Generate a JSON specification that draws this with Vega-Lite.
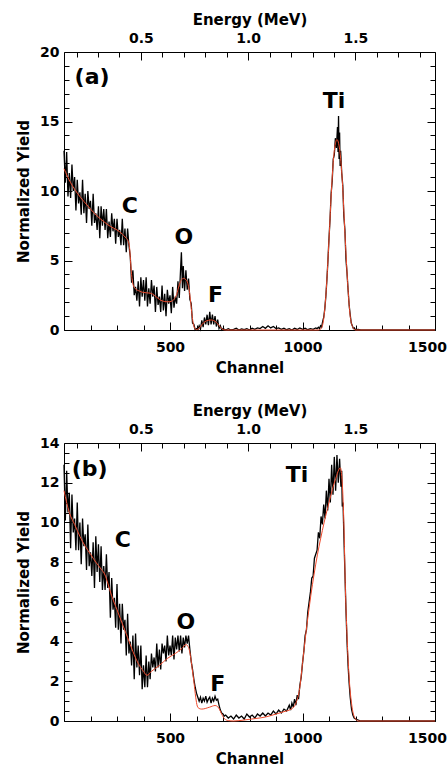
{
  "$schema": "https://vega.github.io/schema/vega-lite/v6.json",
  "background": "white",
  "padding": {"left": 16, "top": 11, "right": 0, "bottom": 0},
  "config": {
    "view": {"stroke": "black", "strokeWidth": 1},
    "axis": {"labelFont": "DejaVu Sans", "labelFontWeight": "bold", "labelFontSize": 14, "labelColor": "black", "titleFont": "DejaVu Sans", "titleFontWeight": "bold", "titleFontSize": 15, "titleColor": "black", "tickColor": "black", "tickWidth": 1, "grid": false, "domain": false, "labelFlush": false, "labelOverlap": false}
  },
  "datasets": {
    "blackA": [
      {"c":100,"v":12.9},{"c":105,"v":10.6},{"c":110,"v":12.8},{"c":115,"v":9.6},{"c":120,"v":11.3},{"c":125,"v":9.5},{"c":130,"v":11.9},{"c":135,"v":10.0},{"c":140,"v":11.0},{"c":145,"v":8.6},{"c":150,"v":10.8},{"c":155,"v":9.1},{"c":160,"v":9.9},{"c":165,"v":8.3},{"c":170,"v":10.8},{"c":175,"v":8.4},{"c":180,"v":9.8},{"c":185,"v":7.7},{"c":190,"v":10.0},{"c":195,"v":8.7},{"c":200,"v":9.3},{"c":205,"v":7.5},{"c":210,"v":9.8},{"c":215,"v":7.7},{"c":220,"v":8.4},{"c":225,"v":7.2},{"c":230,"v":8.9},{"c":235,"v":6.6},{"c":240,"v":8.9},{"c":245,"v":7.5},{"c":250,"v":8.7},{"c":255,"v":7.2},{"c":260,"v":8.7},{"c":265,"v":6.6},{"c":270,"v":7.8},{"c":275,"v":6.7},{"c":280,"v":8.4},{"c":285,"v":7.1},{"c":290,"v":8.0},{"c":295,"v":6.2},{"c":300,"v":8.0},{"c":305,"v":6.7},{"c":310,"v":7.2},{"c":315,"v":6.1},{"c":320,"v":8.0},{"c":325,"v":6.1},{"c":330,"v":7.3},{"c":335,"v":5.6},{"c":340,"v":7.3},{"c":345,"v":6.1},{"c":350,"v":5.3},{"c":355,"v":3.4},{"c":360,"v":4.3},{"c":365,"v":2.5},{"c":370,"v":3.1},{"c":375,"v":2.1},{"c":380,"v":3.5},{"c":385,"v":1.7},{"c":390,"v":3.8},{"c":395,"v":2.4},{"c":400,"v":3.6},{"c":405,"v":2.1},{"c":410,"v":3.8},{"c":415,"v":1.7},{"c":420,"v":3.0},{"c":425,"v":1.9},{"c":430,"v":3.6},{"c":435,"v":2.4},{"c":440,"v":3.2},{"c":445,"v":1.3},{"c":450,"v":3.1},{"c":455,"v":1.8},{"c":460,"v":2.4},{"c":465,"v":1.3},{"c":470,"v":3.2},{"c":475,"v":1.4},{"c":480,"v":2.6},{"c":485,"v":1.0},{"c":490,"v":2.9},{"c":495,"v":1.9},{"c":500,"v":2.5},{"c":505,"v":1.2},{"c":510,"v":3.1},{"c":515,"v":1.6},{"c":520,"v":2.4},{"c":525,"v":1.9},{"c":530,"v":3.5},{"c":535,"v":2.3},{"c":540,"v":4.4},{"c":543,"v":5.6},{"c":547,"v":3.0},{"c":550,"v":4.6},{"c":555,"v":2.8},{"c":560,"v":4.3},{"c":565,"v":2.9},{"c":570,"v":3.7},{"c":575,"v":2.2},{"c":580,"v":1.9},{"c":585,"v":0.5},{"c":590,"v":0.4},{"c":595,"v":0.0},{"c":600,"v":0.1},{"c":605,"v":0.0},{"c":610,"v":0.3},{"c":615,"v":0.05},{"c":620,"v":0.7},{"c":625,"v":0.2},{"c":630,"v":0.9},{"c":635,"v":0.4},{"c":640,"v":1.1},{"c":645,"v":0.35},{"c":650,"v":1.3},{"c":655,"v":0.4},{"c":660,"v":1.1},{"c":665,"v":0.4},{"c":670,"v":1.0},{"c":675,"v":0.25},{"c":680,"v":0.75},{"c":685,"v":0.1},{"c":690,"v":0.3},{"c":695,"v":0.0},{"c":700,"v":0.1},
      {"c":710,"v":0.0},{"c":720,"v":0.1},{"c":730,"v":0.0},{"c":740,"v":0.05},{"c":750,"v":0.12},{"c":760,"v":0.0},{"c":770,"v":0.08},{"c":780,"v":0.02},{"c":790,"v":0.1},{"c":800,"v":0.0},{"c":810,"v":0.12},{"c":820,"v":0.05},{"c":830,"v":0.15},{"c":840,"v":0.1},{"c":850,"v":0.25},{"c":860,"v":0.12},{"c":870,"v":0.3},{"c":880,"v":0.15},{"c":890,"v":0.25},{"c":900,"v":0.1},{"c":910,"v":0.15},{"c":920,"v":0.05},{"c":930,"v":0.12},{"c":940,"v":0.02},{"c":950,"v":0.1},{"c":960,"v":0.0},{"c":970,"v":0.12},{"c":980,"v":0.04},{"c":990,"v":0.15},{"c":1000,"v":0.05},{"c":1010,"v":0.12},{"c":1020,"v":0.02},{"c":1030,"v":0.1},{"c":1040,"v":0.05},{"c":1050,"v":0.15},{"c":1055,"v":0.1},{"c":1060,"v":0.2},
      {"c":1064,"v":0.1},{"c":1068,"v":0.3},{"c":1072,"v":0.2},{"c":1076,"v":0.6},{"c":1080,"v":0.9},{"c":1084,"v":1.5},{"c":1088,"v":2.4},{"c":1092,"v":3.6},{"c":1096,"v":5.0},{"c":1100,"v":6.6},{"c":1104,"v":8.0},{"c":1108,"v":9.8},{"c":1112,"v":10.7},{"c":1116,"v":12.3},{"c":1120,"v":12.6},{"c":1124,"v":13.8},{"c":1128,"v":13.1},{"c":1132,"v":14.6},{"c":1134,"v":12.8},{"c":1136,"v":15.4},{"c":1138,"v":12.3},{"c":1140,"v":14.2},{"c":1142,"v":11.8},{"c":1144,"v":12.9},{"c":1148,"v":11.3},{"c":1152,"v":10.4},{"c":1156,"v":8.2},{"c":1160,"v":7.2},{"c":1164,"v":5.1},{"c":1168,"v":4.1},{"c":1172,"v":2.9},{"c":1176,"v":1.8},{"c":1180,"v":1.1},{"c":1184,"v":0.5},{"c":1188,"v":0.3},{"c":1192,"v":0.1},{"c":1196,"v":0.15},{"c":1200,"v":0.0},{"c":1210,"v":0.05},{"c":1220,"v":0.0},{"c":1500,"v":0.0}
    ],
    "redA": [
      {"c":100,"v":11.6},{"c":125,"v":10.6},{"c":150,"v":9.85},{"c":175,"v":9.25},{"c":200,"v":8.7},{"c":225,"v":8.2},{"c":250,"v":7.8},{"c":275,"v":7.45},{"c":300,"v":7.2},{"c":320,"v":6.9},{"c":335,"v":6.6},{"c":342,"v":6.4},{"c":347,"v":6.0},{"c":351,"v":5.0},{"c":355,"v":4.0},{"c":360,"v":3.3},{"c":368,"v":3.0},{"c":385,"v":2.8},{"c":400,"v":2.7},{"c":425,"v":2.65},{"c":435,"v":2.58},{"c":450,"v":2.35},{"c":470,"v":2.1},{"c":490,"v":2.03},{"c":505,"v":2.06},{"c":515,"v":2.2},{"c":525,"v":2.55},{"c":535,"v":3.25},{"c":545,"v":3.65},{"c":550,"v":3.72},{"c":560,"v":3.62},{"c":567,"v":3.35},{"c":573,"v":2.8},{"c":578,"v":2.0},{"c":583,"v":1.1},{"c":588,"v":0.45},{"c":594,"v":0.1},{"c":600,"v":0.03},{"c":610,"v":0.12},{"c":620,"v":0.38},{"c":632,"v":0.6},{"c":645,"v":0.7},{"c":655,"v":0.72},{"c":665,"v":0.68},{"c":675,"v":0.55},{"c":685,"v":0.32},{"c":695,"v":0.1},{"c":702,"v":0.02},{"c":710,"v":0},{"c":1060,"v":0},{"c":1070,"v":0.1},{"c":1080,"v":0.8},{"c":1090,"v":3.0},{"c":1100,"v":6.5},{"c":1110,"v":10.3},{"c":1120,"v":12.9},{"c":1130,"v":13.7},{"c":1140,"v":13.0},{"c":1150,"v":10.8},{"c":1160,"v":7.0},{"c":1170,"v":3.5},{"c":1180,"v":1.0},{"c":1190,"v":0.2},{"c":1200,"v":0},{"c":1500,"v":0}
    ],
    "labA": [
      {"t":"(a)","c":206,"v":18.2},{"t":"C","c":348,"v":8.9},{"t":"O","c":552,"v":6.7},{"t":"F","c":672,"v":2.5},{"t":"Ti","c":1119,"v":16.5}
    ],
    "blackB": [
      {"c":100,"v":12.9},{"c":105,"v":10.1},{"c":110,"v":12.6},{"c":115,"v":10.5},{"c":120,"v":11.5},{"c":125,"v":8.7},{"c":130,"v":11.4},{"c":135,"v":9.5},{"c":140,"v":10.2},{"c":145,"v":8.6},{"c":150,"v":11.0},{"c":155,"v":8.6},{"c":160,"v":10.0},{"c":165,"v":7.9},{"c":170,"v":10.2},{"c":175,"v":8.8},{"c":180,"v":9.4},{"c":185,"v":7.6},{"c":190,"v":9.9},{"c":195,"v":7.8},{"c":200,"v":8.5},{"c":205,"v":7.3},{"c":210,"v":9.0},{"c":215,"v":6.7},{"c":220,"v":9.3},{"c":225,"v":7.5},{"c":230,"v":8.9},{"c":235,"v":7.0},{"c":240,"v":8.8},{"c":245,"v":6.6},{"c":250,"v":7.8},{"c":255,"v":6.6},{"c":260,"v":8.4},{"c":265,"v":6.7},{"c":270,"v":7.5},{"c":275,"v":5.2},{"c":280,"v":7.2},{"c":285,"v":5.6},{"c":290,"v":6.2},{"c":295,"v":4.7},{"c":300,"v":6.9},{"c":305,"v":4.6},{"c":310,"v":5.9},{"c":315,"v":3.9},{"c":320,"v":5.9},{"c":325,"v":4.6},{"c":330,"v":5.1},{"c":335,"v":3.3},{"c":340,"v":5.4},{"c":345,"v":3.4},{"c":350,"v":4.0},{"c":355,"v":2.8},{"c":360,"v":4.3},{"c":365,"v":2.1},{"c":370,"v":4.4},{"c":375,"v":2.7},{"c":380,"v":3.8},{"c":385,"v":2.3},{"c":390,"v":3.8},{"c":395,"v":1.6},{"c":400,"v":2.8},{"c":405,"v":1.7},{"c":410,"v":3.3},{"c":415,"v":1.7},{"c":420,"v":3.0},{"c":425,"v":2.1},{"c":430,"v":3.4},{"c":435,"v":2.7},{"c":440,"v":3.2},{"c":445,"v":2.5},{"c":450,"v":3.9},{"c":455,"v":2.7},{"c":460,"v":3.6},{"c":465,"v":2.6},{"c":470,"v":3.9},{"c":475,"v":3.4},{"c":480,"v":3.8},{"c":485,"v":3.0},{"c":490,"v":4.3},{"c":495,"v":3.3},{"c":500,"v":3.8},{"c":505,"v":3.3},{"c":510,"v":4.3},{"c":515,"v":3.1},{"c":520,"v":4.2},{"c":525,"v":3.6},{"c":530,"v":4.3},{"c":535,"v":3.5},{"c":540,"v":4.3},{"c":545,"v":3.4},{"c":550,"v":4.2},{"c":555,"v":3.7},{"c":560,"v":4.3},{"c":565,"v":3.9},{"c":570,"v":4.3},{"c":575,"v":3.6},{"c":580,"v":3.0},{"c":585,"v":2.6},{"c":590,"v":2.1},{"c":595,"v":1.7},{"c":600,"v":1.4},{"c":605,"v":1.2},{"c":610,"v":1.0},{"c":615,"v":1.2},{"c":620,"v":0.9},{"c":625,"v":1.15},{"c":630,"v":1.0},{"c":635,"v":1.25},{"c":640,"v":0.95},{"c":645,"v":1.1},{"c":650,"v":1.2},{"c":655,"v":0.9},{"c":660,"v":1.15},{"c":665,"v":1.0},{"c":670,"v":1.25},{"c":675,"v":1.05},{"c":680,"v":1.1},{"c":685,"v":0.8},{"c":690,"v":0.55},{"c":695,"v":0.4},{"c":700,"v":0.35},{"c":705,"v":0.25},
      {"c":710,"v":0.3},{"c":720,"v":0.15},{"c":730,"v":0.25},{"c":740,"v":0.1},{"c":750,"v":0.3},{"c":760,"v":0.15},{"c":770,"v":0.25},{"c":780,"v":0.1},{"c":790,"v":0.35},{"c":800,"v":0.2},{"c":810,"v":0.3},{"c":820,"v":0.15},{"c":830,"v":0.35},{"c":840,"v":0.25},{"c":850,"v":0.4},{"c":860,"v":0.25},{"c":870,"v":0.4},{"c":880,"v":0.3},{"c":890,"v":0.5},{"c":900,"v":0.35},{"c":910,"v":0.55},{"c":920,"v":0.4},{"c":930,"v":0.6},{"c":940,"v":0.5},{"c":950,"v":0.8},{"c":955,"v":0.55},{"c":960,"v":0.9},{"c":965,"v":0.7},{"c":970,"v":1.1},{"c":975,"v":0.8},{"c":980,"v":1.3},{"c":985,"v":1.1},{"c":990,"v":1.8},{"c":995,"v":2.2},{"c":1000,"v":2.9},{"c":1005,"v":3.5},{"c":1010,"v":4.3},{"c":1015,"v":4.6},{"c":1020,"v":5.5},{"c":1025,"v":6.0},{"c":1030,"v":6.5},{"c":1035,"v":7.2},{"c":1040,"v":7.3},{"c":1045,"v":8.2},{"c":1050,"v":8.4},{"c":1055,"v":8.6},{"c":1060,"v":9.5},{"c":1065,"v":9.2},{"c":1070,"v":10.3},{"c":1075,"v":9.9},{"c":1080,"v":10.9},{"c":1085,"v":10.2},{"c":1090,"v":11.6},{"c":1095,"v":10.6},{"c":1100,"v":12.2},{"c":1105,"v":11.0},{"c":1110,"v":12.9},{"c":1115,"v":11.4},{"c":1120,"v":13.3},{"c":1125,"v":11.6},{"c":1130,"v":13.4},{"c":1135,"v":12.0},{"c":1140,"v":13.2},{"c":1145,"v":11.8},{"c":1148,"v":12.6},{"c":1150,"v":10.8},{"c":1153,"v":11.0},{"c":1156,"v":9.4},{"c":1160,"v":7.5},{"c":1164,"v":5.6},{"c":1168,"v":4.0},{"c":1172,"v":2.8},{"c":1176,"v":1.9},{"c":1180,"v":1.2},{"c":1185,"v":0.6},{"c":1190,"v":0.3},{"c":1195,"v":0.15},{"c":1200,"v":0.1},{"c":1210,"v":0.05},{"c":1220,"v":0.0},{"c":1500,"v":0.0}
    ],
    "redB": [
      {"c":100,"v":11.6},{"c":120,"v":10.5},{"c":140,"v":9.9},{"c":160,"v":9.3},{"c":180,"v":8.8},{"c":200,"v":8.4},{"c":220,"v":8.0},{"c":240,"v":7.65},{"c":255,"v":7.35},{"c":265,"v":6.95},{"c":280,"v":6.3},{"c":300,"v":5.6},{"c":320,"v":4.9},{"c":340,"v":4.2},{"c":360,"v":3.5},{"c":380,"v":2.9},{"c":400,"v":2.5},{"c":413,"v":2.3},{"c":430,"v":2.5},{"c":460,"v":2.8},{"c":490,"v":3.15},{"c":520,"v":3.4},{"c":545,"v":3.65},{"c":560,"v":3.85},{"c":570,"v":3.7},{"c":577,"v":3.3},{"c":583,"v":2.7},{"c":590,"v":2.0},{"c":597,"v":1.2},{"c":603,"v":0.75},{"c":610,"v":0.63},{"c":620,"v":0.6},{"c":650,"v":0.7},{"c":670,"v":0.78},{"c":680,"v":0.72},{"c":688,"v":0.55},{"c":695,"v":0.35},{"c":705,"v":0.12},{"c":720,"v":0.02},{"c":740,"v":0},{"c":780,"v":0.05},{"c":820,"v":0.12},{"c":860,"v":0.2},{"c":900,"v":0.35},{"c":930,"v":0.47},{"c":960,"v":0.62},{"c":975,"v":0.9},{"c":990,"v":1.7},{"c":1000,"v":2.9},{"c":1010,"v":4.1},{"c":1025,"v":5.7},{"c":1050,"v":7.9},{"c":1075,"v":9.6},{"c":1100,"v":11.0},{"c":1125,"v":12.2},{"c":1143,"v":12.75},{"c":1150,"v":12.0},{"c":1156,"v":10.0},{"c":1162,"v":6.6},{"c":1168,"v":4.3},{"c":1175,"v":2.4},{"c":1187,"v":0.7},{"c":1200,"v":0.1},{"c":1210,"v":0},{"c":1500,"v":0}
    ],
    "labB": [
      {"t":"(b)","c":197,"v":12.7},{"t":"C","c":322,"v":9.1},{"t":"O","c":560,"v":5.0},{"t":"F","c":680,"v":1.85},{"t":"Ti","c":979,"v":12.4}
    ],
    "energy": [{"e":0.1415,"v":0},{"e":1.871,"v":0}]
  },
  "spacing": 113,
  "bounds": "flush",
  "vconcat": [
    {
      "width": 371, "height": 278,
      "layer": [
        {"data": {"name": "blackA"}, "mark": {"type": "line", "color": "#000000", "strokeWidth": 1.3},
         "encoding": {
           "x": {"field": "c", "type": "quantitative", "scale": {"domain": [100, 1500], "nice": false, "zero": false}, "axis": {"orient": "bottom", "values": [500, 1000, 1500], "format": "d", "title": "Channel", "ticks": false, "tickSize": 0, "labelPadding": 10, "titlePadding": 6, "labelOffset": {"condition": {"test": "datum.value === 1500", "value": -8}, "value": 0}}},
           "y": {"field": "v", "type": "quantitative", "scale": {"domain": [0, 20], "nice": false}, "axis": {"orient": "left", "values": [0, 5, 10, 15, 20], "title": "Normalized Yield", "ticks": false, "tickSize": 0, "labelPadding": 5, "titlePadding": 8}}
         }},
        {"data": {"name": "redA"}, "mark": {"type": "line", "color": "#ef4a2c", "strokeWidth": 1, "interpolate": "monotone"},
         "encoding": {
           "x": {"field": "c", "type": "quantitative", "scale": {"domain": [100, 1500], "nice": false, "zero": false}, "axis": null},
           "y": {"field": "v", "type": "quantitative", "scale": {"domain": [0, 20], "nice": false}, "axis": null}
         }},
        {"data": {"name": "labA"}, "mark": {"type": "text", "font": "DejaVu Sans", "fontWeight": "bold", "fontSize": 22, "align": "center", "baseline": "middle", "color": "#000000"},
         "encoding": {
           "x": {"field": "c", "type": "quantitative", "scale": {"domain": [100, 1500], "nice": false, "zero": false}, "axis": null},
           "y": {"field": "v", "type": "quantitative", "scale": {"domain": [0, 20], "nice": false}, "axis": null},
           "text": {"field": "t"}
         }},
        {"data": {"name": "blackA"}, "mark": {"type": "point", "opacity": 0},
         "encoding": {
           "x": {"field": "c", "type": "quantitative", "scale": {"domain": [100, 1500], "nice": false, "zero": false}, "axis": {"orient": "bottom", "values": [100,200,300,400,500,600,700,800,900,1000,1100,1200,1300,1400,1500], "labels": false, "title": null, "tickSize": {"condition": {"test": "datum.value % 500 === 0", "value": -8}, "value": -5}}},
           "y": {"field": "v", "type": "quantitative", "scale": {"domain": [0, 20], "nice": false}, "axis": {"orient": "left", "values": [0,1,2,3,4,5,6,7,8,9,10,11,12,13,14,15,16,17,18,19,20], "labels": false, "title": null, "tickSize": {"condition": {"test": "datum.value % 5 === 0", "value": -8}, "value": -5}}}
         }},
        {"data": {"name": "blackA"}, "mark": {"type": "point", "opacity": 0},
         "encoding": {
           "x": {"field": "c", "type": "quantitative", "scale": {"domain": [100, 1500], "nice": false, "zero": false}, "axis": null},
           "y": {"field": "v", "type": "quantitative", "scale": {"domain": [0, 20], "nice": false}, "axis": {"orient": "right", "values": [0,1,2,3,4,5,6,7,8,9,10,11,12,13,14,15,16,17,18,19,20], "labels": false, "title": null, "tickSize": {"condition": {"test": "datum.value % 5 === 0", "value": -8}, "value": -5}}}
         }},
        {"data": {"name": "energy"}, "mark": {"type": "point", "opacity": 0},
         "encoding": {
           "x": {"field": "e", "type": "quantitative", "scale": {"domain": [0.1415, 1.871], "nice": false, "zero": false}, "axis": {"orient": "top", "values": [0.5, 1.0, 1.5], "format": ".1f", "title": "Energy (MeV)", "ticks": false, "tickSize": 0, "labelPadding": 7, "titlePadding": 4}},
           "y": {"field": "v", "type": "quantitative", "scale": {"domain": [0, 20], "nice": false}, "axis": null}
         }},
        {"data": {"name": "energy"}, "mark": {"type": "point", "opacity": 0},
         "encoding": {
           "x": {"field": "e", "type": "quantitative", "scale": {"domain": [0.1415, 1.871], "nice": false, "zero": false}, "axis": {"orient": "top", "values": [0.2,0.3,0.4,0.5,0.6,0.7,0.8,0.9,1.0,1.1,1.2,1.3,1.4,1.5,1.6,1.7,1.8], "labels": false, "title": null, "tickSize": {"condition": {"test": "abs((datum.value * 10) % 5) < 0.001", "value": -8}, "value": -5}}},
           "y": {"field": "v", "type": "quantitative", "scale": {"domain": [0, 20], "nice": false}, "axis": null}
         }}
      ],
      "resolve": {"scale": {"x": "independent"}, "axis": {"x": "independent", "y": "independent"}}
    },
    {
      "width": 371, "height": 278,
      "layer": [
        {"data": {"name": "blackB"}, "mark": {"type": "line", "color": "#000000", "strokeWidth": 1.3},
         "encoding": {
           "x": {"field": "c", "type": "quantitative", "scale": {"domain": [100, 1500], "nice": false, "zero": false}, "axis": {"orient": "bottom", "values": [500, 1000, 1500], "format": "d", "title": "Channel", "ticks": false, "tickSize": 0, "labelPadding": 10, "titlePadding": 6, "labelOffset": {"condition": {"test": "datum.value === 1500", "value": -8}, "value": 0}}},
           "y": {"field": "v", "type": "quantitative", "scale": {"domain": [0, 14], "nice": false}, "axis": {"orient": "left", "values": [0, 2, 4, 6, 8, 10, 12, 14], "title": "Normalized Yield", "ticks": false, "tickSize": 0, "labelPadding": 5, "titlePadding": 8}}
         }},
        {"data": {"name": "redB"}, "mark": {"type": "line", "color": "#ef4a2c", "strokeWidth": 1, "interpolate": "monotone"},
         "encoding": {
           "x": {"field": "c", "type": "quantitative", "scale": {"domain": [100, 1500], "nice": false, "zero": false}, "axis": null},
           "y": {"field": "v", "type": "quantitative", "scale": {"domain": [0, 14], "nice": false}, "axis": null}
         }},
        {"data": {"name": "labB"}, "mark": {"type": "text", "font": "DejaVu Sans", "fontWeight": "bold", "fontSize": 22, "align": "center", "baseline": "middle", "color": "#000000"},
         "encoding": {
           "x": {"field": "c", "type": "quantitative", "scale": {"domain": [100, 1500], "nice": false, "zero": false}, "axis": null},
           "y": {"field": "v", "type": "quantitative", "scale": {"domain": [0, 14], "nice": false}, "axis": null},
           "text": {"field": "t"}
         }},
        {"data": {"name": "blackB"}, "mark": {"type": "point", "opacity": 0},
         "encoding": {
           "x": {"field": "c", "type": "quantitative", "scale": {"domain": [100, 1500], "nice": false, "zero": false}, "axis": {"orient": "bottom", "values": [100,200,300,400,500,600,700,800,900,1000,1100,1200,1300,1400,1500], "labels": false, "title": null, "tickSize": {"condition": {"test": "datum.value % 500 === 0", "value": -8}, "value": -5}}},
           "y": {"field": "v", "type": "quantitative", "scale": {"domain": [0, 14], "nice": false}, "axis": {"orient": "left", "values": [0,0.5,1,1.5,2,2.5,3,3.5,4,4.5,5,5.5,6,6.5,7,7.5,8,8.5,9,9.5,10,10.5,11,11.5,12,12.5,13,13.5,14], "labels": false, "title": null, "tickSize": {"condition": {"test": "datum.value % 2 === 0", "value": -8}, "value": -5}}}
         }},
        {"data": {"name": "blackB"}, "mark": {"type": "point", "opacity": 0},
         "encoding": {
           "x": {"field": "c", "type": "quantitative", "scale": {"domain": [100, 1500], "nice": false, "zero": false}, "axis": null},
           "y": {"field": "v", "type": "quantitative", "scale": {"domain": [0, 14], "nice": false}, "axis": {"orient": "right", "values": [0,0.5,1,1.5,2,2.5,3,3.5,4,4.5,5,5.5,6,6.5,7,7.5,8,8.5,9,9.5,10,10.5,11,11.5,12,12.5,13,13.5,14], "labels": false, "title": null, "tickSize": {"condition": {"test": "datum.value % 2 === 0", "value": -8}, "value": -5}}}
         }},
        {"data": {"name": "energy"}, "mark": {"type": "point", "opacity": 0},
         "encoding": {
           "x": {"field": "e", "type": "quantitative", "scale": {"domain": [0.1415, 1.871], "nice": false, "zero": false}, "axis": {"orient": "top", "values": [0.5, 1.0, 1.5], "format": ".1f", "title": "Energy (MeV)", "ticks": false, "tickSize": 0, "labelPadding": 7, "titlePadding": 4}},
           "y": {"field": "v", "type": "quantitative", "scale": {"domain": [0, 14], "nice": false}, "axis": null}
         }},
        {"data": {"name": "energy"}, "mark": {"type": "point", "opacity": 0},
         "encoding": {
           "x": {"field": "e", "type": "quantitative", "scale": {"domain": [0.1415, 1.871], "nice": false, "zero": false}, "axis": {"orient": "top", "values": [0.2,0.3,0.4,0.5,0.6,0.7,0.8,0.9,1.0,1.1,1.2,1.3,1.4,1.5,1.6,1.7,1.8], "labels": false, "title": null, "tickSize": {"condition": {"test": "abs((datum.value * 10) % 5) < 0.001", "value": -8}, "value": -5}}},
           "y": {"field": "v", "type": "quantitative", "scale": {"domain": [0, 14], "nice": false}, "axis": null}
         }}
      ],
      "resolve": {"scale": {"x": "independent"}, "axis": {"x": "independent", "y": "independent"}}
    }
  ]
}
